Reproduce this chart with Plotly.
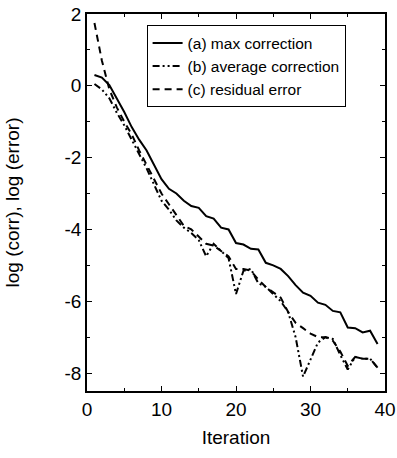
import plotly.graph_objects as go

iterations = list(range(1, 40))

max_correction = [0.3, 0.23, 0.02, -0.35, -0.73, -1.15, -1.5, -1.8, -2.2, -2.6,
                  -2.87, -3.0, -3.2, -3.35, -3.4, -3.63, -3.7, -3.95, -4.0, -4.38,
                  -4.42, -4.54, -4.56, -4.93, -5.0, -5.1, -5.3, -5.55, -5.76, -5.85,
                  -6.04, -6.1, -6.27, -6.31, -6.73, -6.75, -6.87, -6.82, -7.19]

average_correction = [0.05, -0.1, -0.35, -0.75, -1.1, -1.5, -1.9, -2.3, -2.75, -3.2,
                      -3.45, -3.75, -3.95, -4.1, -4.3, -4.75, -4.4, -4.6, -4.8, -5.8,
                      -5.15, -5.1, -5.5, -5.6, -5.8, -6.0, -6.3, -7.0, -8.1, -7.6,
                      -7.15, -7.0, -7.05, -7.5, -7.9, -7.55, -7.6, -7.6, -7.85]

residual_error = [1.75, 0.7, -0.1, -0.6, -1.0, -1.35, -1.8, -2.2, -2.6, -3.0,
                  -3.3, -3.6, -3.9, -4.0, -4.2, -4.4, -4.45, -4.6, -4.75, -5.1,
                  -5.1, -5.15, -5.4, -5.6, -5.75, -5.9, -6.3, -6.6, -6.75, -6.9,
                  -7.0, -7.0, -7.1, -7.4, -7.8, -7.55, -7.6, -7.6, -7.85]

series_names = ["(a) max correction", "(b) average correction", "(c) residual error"]

x_tickvals = [0, 10, 20, 30, 40]
x_ticktext = ["0", "10", "20", "30", "40"]
y_tickvals = [2, 0, -2, -4, -6, -8]
y_ticktext = ["2", "0", "-2", "-4", "-6", "-8"]

font = "Liberation Sans, Arial, sans-serif"

fig = go.Figure()
fig.add_trace(go.Scatter(x=iterations, y=max_correction, mode="lines", name=series_names[0],
                         line=dict(color="black", width=2, dash="solid")))
fig.add_trace(go.Scatter(x=iterations, y=average_correction, mode="lines", name=series_names[1],
                         line=dict(color="black", width=2, dash="7px,3px,2px,3px,2px,3px")))
fig.add_trace(go.Scatter(x=iterations, y=residual_error, mode="lines", name=series_names[2],
                         line=dict(color="black", width=2, dash="7px,5px")))

axis_common = dict(showgrid=False, zeroline=False, showline=True, linecolor="black",
                   linewidth=1.5, mirror="allticks", ticks="inside", ticklen=5,
                   tickwidth=1, tickcolor="black", automargin=False,
                   tickfont=dict(size=19, color="black", family=font))

fig.update_layout(
    width=397, height=458,
    margin=dict(l=87, r=12, t=14, b=67),
    paper_bgcolor="white", plot_bgcolor="white",
    font=dict(family=font, color="black"),
    xaxis=dict(range=[0, 40], tickvals=x_tickvals, ticktext=x_ticktext,
               minor=dict(ticks="inside", ticklen=3, dtick=5, tickcolor="black"),
               title=dict(text="Iteration", font=dict(size=19, family=font), standoff=12),
               **axis_common),
    yaxis=dict(range=[-8.5, 2], tickvals=y_tickvals, ticktext=y_ticktext,
               minor=dict(ticks="inside", ticklen=3, dtick=1, tickcolor="black"),
               title=dict(text="log (corr), log (error)", font=dict(size=19, family=font), standoff=40),
               **axis_common),
    legend=dict(x=0.2, y=0.97, xanchor="left", yanchor="top",
                bordercolor="black", borderwidth=1, bgcolor="white",
                font=dict(size=15.5, family=font, color="black"),
                tracegroupgap=0, itemwidth=30),
    showlegend=True,
)

fig.write_html("out.html", post_script="document.body.style.margin='0';",
               config={"displayModeBar": False})
